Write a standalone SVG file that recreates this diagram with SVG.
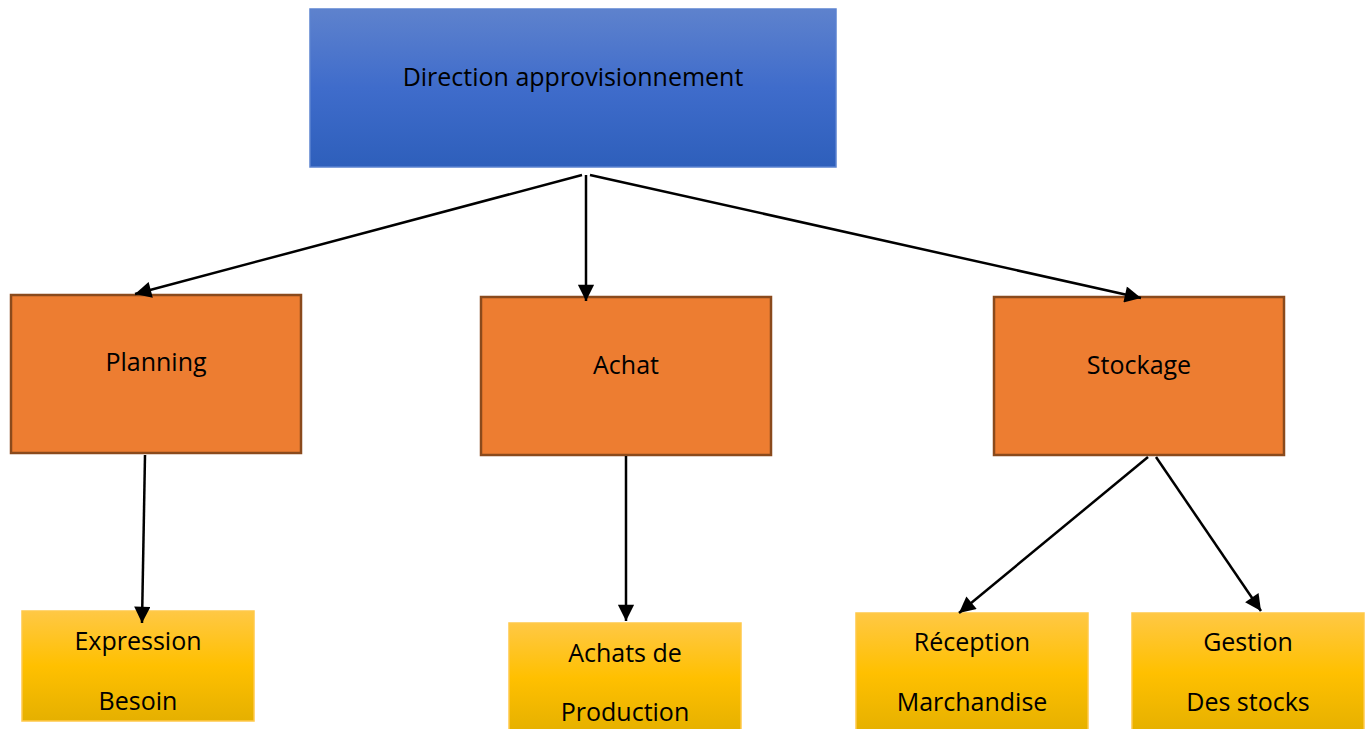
<svg xmlns="http://www.w3.org/2000/svg" width="1371" height="729" viewBox="0 0 1371 729">
  <defs>
    <linearGradient id="gBlue" x1="0" y1="0" x2="0" y2="1">
      <stop offset="0" stop-color="#5e82cd"/>
      <stop offset="0.5" stop-color="#3f6ccb"/>
      <stop offset="1" stop-color="#2e5fbb"/>
    </linearGradient>
    <linearGradient id="gGold" x1="0" y1="0" x2="0" y2="1">
      <stop offset="0" stop-color="#ffc845"/>
      <stop offset="0.5" stop-color="#ffc000"/>
      <stop offset="1" stop-color="#e5b000"/>
    </linearGradient>
    <marker id="arrow" viewBox="0 0 10 10" refX="10" refY="5" markerWidth="7" markerHeight="6.5" markerUnits="strokeWidth" orient="auto">
      <path d="M0,0 L10,5 L0,10 z" fill="#000"/>
    </marker>
    <style>
      .label { font-family: "Open Sans", "Liberation Sans", sans-serif; font-size: 25px; fill: #000; text-anchor: middle; }
      .head { fill: url(#gBlue); stroke: #5b82d0; stroke-width: 1.5; }
      .unit { fill: #ed7d31; stroke: #8a4a1c; stroke-width: 2.5; }
      .task { fill: url(#gGold); stroke: #ffc94a; stroke-width: 1.5; }
      .link { stroke: #000; stroke-width: 2.5; fill: none; marker-end: url(#arrow); }
    </style>
  </defs>
  <rect width="1371" height="729" fill="#fff"/>

  <g id="direction">
    <rect class="head" x="310" y="9" width="526" height="158"/>
    <text class="label" x="573" y="86">Direction approvisionnement</text>
  </g>

  <g id="planning">
    <rect class="unit" x="11" y="295" width="290" height="158"/>
    <text class="label" x="156" y="371">Planning</text>
  </g>
  <g id="achat">
    <rect class="unit" x="481" y="297" width="290" height="158"/>
    <text class="label" x="626" y="374">Achat</text>
  </g>
  <g id="stockage">
    <rect class="unit" x="994" y="297" width="290" height="158"/>
    <text class="label" x="1139" y="374">Stockage</text>
  </g>

  <g id="expression-besoin">
    <rect class="task" x="22" y="611" width="232" height="110"/>
    <text class="label" x="138" y="650">Expression</text>
    <text class="label" x="138" y="710">Besoin</text>
  </g>
  <g id="achats-production">
    <rect class="task" x="509" y="623" width="232" height="110"/>
    <text class="label" x="625" y="662">Achats de</text>
    <text class="label" x="625" y="721">Production</text>
  </g>
  <g id="reception-marchandise">
    <rect class="task" x="856" y="613" width="232" height="120"/>
    <text class="label" x="972" y="651">Réception</text>
    <text class="label" x="972" y="711">Marchandise</text>
  </g>
  <g id="gestion-stocks">
    <rect class="task" x="1132" y="613" width="232" height="120"/>
    <text class="label" x="1248" y="651">Gestion</text>
    <text class="label" x="1248" y="711">Des stocks</text>
  </g>

  <!-- connectors drawn last so arrowheads sit on top of box edges -->
  <g id="connectors">
    <line class="link" x1="582" y1="175" x2="135" y2="294"/>
    <line class="link" x1="586" y1="175" x2="586" y2="301"/>
    <line class="link" x1="590" y1="175" x2="1141" y2="298"/>
    <line class="link" x1="145" y1="455" x2="142" y2="623"/>
    <line class="link" x1="626" y1="456" x2="626" y2="621"/>
    <line class="link" x1="1148" y1="457" x2="959" y2="613"/>
    <line class="link" x1="1156" y1="457" x2="1261" y2="611"/>
  </g>
</svg>
